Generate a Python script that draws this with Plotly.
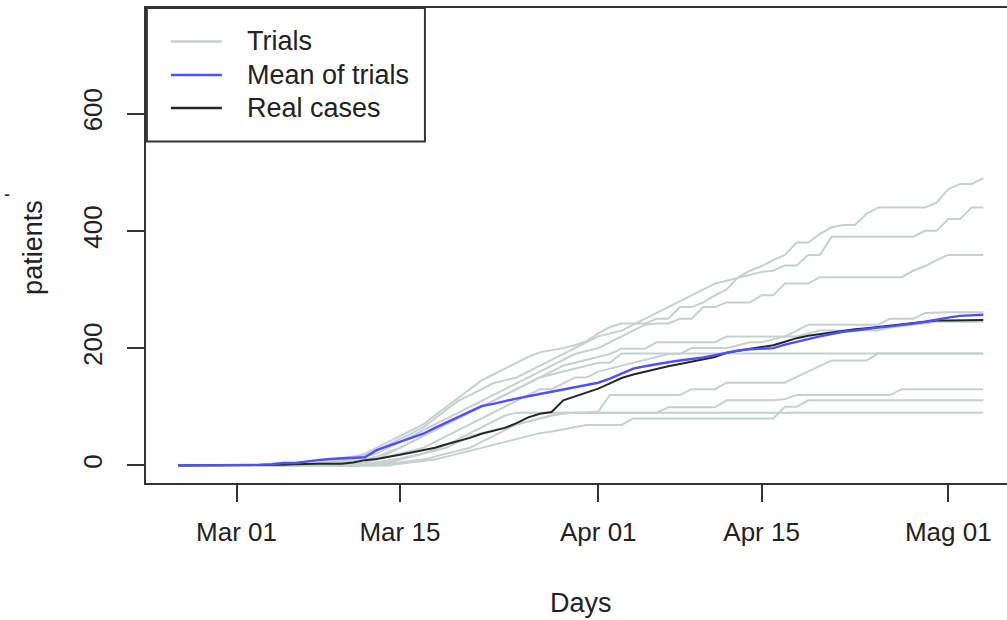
import pandas as pd
import plotly.graph_objects as go

# ---------------- data ----------------
days = pd.date_range("2020-02-25", "2020-05-04", freq="D")

trials = [
    [0,0,0,0,0,0,0,0,0,0, 0,2,5,10,12,15,20,30,40,50, 60,70,85,100,115,130,145,155,165,175,
     185,193,196,200,205,212,225,236,242,242, 242,250,250,270,270,278,290,300,321,332,
     340,350,359,380,380,395,406,410,410,429, 440,440,440,440,440,448,471,480,480,490],
    [0,0,0,0,0,0,0,0,0,0, 0,0,3,8,10,12,18,25,35,45, 55,65,80,95,110,120,130,140,145,150,
     160,170,180,190,200,210,220,225,230,240, 250,260,270,280,290,300,310,315,320,325,
     330,332,341,341,359,359,390,390,390,390, 390,390,390,390,400,400,420,420,440,440],
    [0,0,0,0,0,0,0,0,0,0, 0,0,0,5,8,10,15,20,30,40, 50,60,70,80,90,100,110,120,130,140,
     150,160,170,180,190,195,200,210,220,230, 240,242,242,250,250,270,270,278,278,278,
     290,290,310,310,310,321,321,321,321,321, 321,321,321,332,340,350,359,359,359,359],
    [0,0,0,0,0,0,0,0,0,0, 0,0,0,0,5,5,10,10,20,30, 40,50,60,70,80,90,100,110,120,130,
     140,150,160,170,175,180,185,190,199,199, 199,210,210,210,210,210,210,220,220,220,
     220,220,220,230,240,240,240,240,240,240, 240,250,250,250,260,261,261,261,261,261],
    [0,0,0,0,0,0,0,0,0,0, 0,0,0,0,0,3,5,10,15,20, 25,30,40,50,60,70,80,90,100,110,
     120,130,130,140,150,150,160,165,170,175, 180,185,190,190,200,200,200,200,205,210,
     210,215,220,220,225,230,230,230,230,230, 230,235,238,240,242,245,245,245,245,245],
    [0,0,0,0,0,0,0,0,0,0, 0,0,0,2,5,8,10,15,22,30, 40,50,60,70,80,90,100,110,120,130,
     140,150,155,160,165,170,175,175,191,191, 191,191,191,191,191,191,191,191,191,191,
     191,191,191,191,191,191,191,191,191,191, 191,191,191,191,191,191,191,191,191,191],
    [0,0,0,0,0,0,0,0,0,0, 0,0,0,0,0,0,0,3,5,10, 15,20,25,30,40,50,55,60,65,70,
     75,80,85,88,90,90,92,120,120,120, 120,120,120,120,130,130,130,141,141,141,
     141,141,141,151,160,170,179,179,179,179, 191,191,191,191,191,191,191,191,191,191],
    [0,0,0,0,0,0,0,0,0,0, 0,0,0,0,0,0,0,0,3,5, 8,10,15,20,25,30,40,50,60,70,
     75,80,85,90,90,90,90,90,90,90, 90,90,99,99,99,99,99,111,111,111,
     111,111,113,120,120,120,120,120,120,120, 120,120,130,130,130,130,130,130,130,130],
    [0,0,0,0,0,0,0,0,0,0, 0,0,0,0,0,0,0,0,0,3, 5,8,10,15,20,25,30,35,40,45,
     50,55,58,62,66,69,69,69,69,80, 80,80,80,80,80,80,80,80,80,80,
     80,80,100,100,111,111,111,111,111,111, 111,111,111,111,111,111,111,111,111,111],
    [0,0,0,0,0,0,0,0,0,0, 0,0,0,0,0,0,2,5,8,12, 16,20,28,35,45,55,65,75,85,90,
     90,90,90,90,90,90,90,90,90,90, 90,90,90,90,90,90,90,90,90,90,
     90,90,90,90,90,90,90,90,90,90, 90,90,90,90,90,90,90,90,90,90],
]

mean_trials = [0,0,0,0,0,0,0,1,2,4, 4,7,9,11,12,13,14,26,33,40, 47,54,64,73,83,91,101,105,110,114,
               118,122,126,129,133,137,141,148,157,165, 169,173,176,179,181,184,188,192,196,198,
               199,200,206,211,216,220,224,228,230,233, 235,237,239,242,245,249,252,255,256,257]

real_cases = [0,0,0,0,0,0,0,0,1,1, 2,3,3,3,3,5,9,11,14,18, 22,26,30,36,41,47,54,59,64,72,
              82,88,91,111,118,124,131,140,149,155, 160,165,169,173,177,181,185,192,196,199,
              202,205,211,217,221,224,227,230,232,234, 236,238,240,242,245,247,247,247,248,248]

tick_dates = ["2020-03-01", "2020-03-15", "2020-04-01", "2020-04-15", "2020-05-01"]
tick_labels = ["Mar 01", "Mar 15", "Apr 01", "Apr 15", "Mag 01"]
y_ticks = [0, 200, 400, 600]
legend_labels = ["Trials", "Mean of trials", "Real cases"]

# ---------------- style ----------------
W, H = 1007, 620
PL, PR, PT, PB = 146.1, 1007.0, 8.0, 483.0
FONT = "Liberation Sans, Arial, Helvetica, sans-serif"
C_TRIAL = "#c5d0cf"
C_MEAN = "#4f4fff"
C_REAL = "#262626"
C_AX = "#333333"

def px(x):
    return (x - PL) / (PR - PL)

def py(y):
    return (PB - y) / (PB - PT)

fig = go.Figure()
for t in trials:
    fig.add_trace(go.Scatter(x=days, y=t, mode="lines",
                             line=dict(color=C_TRIAL, width=2), showlegend=False,
                             hoverinfo="skip"))
fig.add_trace(go.Scatter(x=days, y=real_cases, mode="lines",
                         line=dict(color=C_REAL, width=2), showlegend=False))
fig.add_trace(go.Scatter(x=days, y=mean_trials, mode="lines",
                         line=dict(color=C_MEAN, width=2.4), showlegend=False))

start = pd.Timestamp("2020-03-01")
xr0 = start - pd.Timedelta(days=7.76)
xr1 = start + pd.Timedelta(days=66.03)

fig.update_xaxes(
    type="date", range=[xr0, xr1], showgrid=False, zeroline=False,
    showline=True, linecolor=C_AX, linewidth=2, mirror=True,
    ticks="outside", ticklen=17, tickwidth=2, tickcolor=C_AX,
    tickvals=tick_dates, ticktext=tick_labels, ticklabelstandoff=8,
    tickfont=dict(family=FONT, size=26, color="#222"), automargin=False,
)
fig.update_yaxes(
    range=[-30, 780], showgrid=False, zeroline=False,
    showline=True, linecolor=C_AX, linewidth=2, mirror=False,
    ticks="outside", ticklen=17, tickwidth=2, tickcolor=C_AX,
    tickvals=y_ticks, ticktext=[str(v) for v in y_ticks], tickangle=-90,
    ticklabelstandoff=15,
    tickfont=dict(family=FONT, size=26, color="#222"), automargin=False,
)

shapes = []
annotations = []
# legend box
shapes.append(dict(type="rect", xref="paper", yref="paper",
                   x0=px(147), x1=px(425), y0=py(141.5), y1=py(8),
                   line=dict(color=C_AX, width=2), fillcolor="white", layer="above"))
leg_cols = [C_TRIAL, C_MEAN, C_REAL]
leg_y = [41.5, 75, 108]
for lab, col, yy in zip(legend_labels, leg_cols, leg_y):
    shapes.append(dict(type="line", xref="paper", yref="paper",
                       x0=px(171), x1=px(222), y0=py(yy), y1=py(yy),
                       line=dict(color=col, width=2.5), layer="above"))
    annotations.append(dict(x=px(245), y=py(yy), xref="paper", yref="paper",
                            text=lab, showarrow=False, xanchor="left", yanchor="middle",
                            font=dict(family=FONT, size=27, color="#222")))
# axis titles
annotations.append(dict(x=px(581), y=py(603), xref="paper", yref="paper", text="Days",
                        showarrow=False, xanchor="center", yanchor="middle",
                        font=dict(family=FONT, size=27, color="#222")))
annotations.append(dict(x=px(33.5), y=py(247.5), xref="paper", yref="paper", text="patients",
                        showarrow=False, xanchor="center", yanchor="middle", textangle=-90,
                        font=dict(family=FONT, size=27, color="#222")))
annotations.append(dict(x=px(12), y=py(195), xref="paper", yref="paper", text="'",
                        showarrow=False, xanchor="center", yanchor="middle", textangle=-90,
                        font=dict(family=FONT, size=20, color="#222")))

fig.update_layout(
    width=W, height=H, autosize=False,
    margin=dict(l=PL, r=W - PR, t=PT, b=H - PB, pad=0),
    paper_bgcolor="white", plot_bgcolor="white",
    showlegend=False, shapes=shapes, annotations=annotations,
    font=dict(family=FONT),
)

fig.write_html("out.html")
